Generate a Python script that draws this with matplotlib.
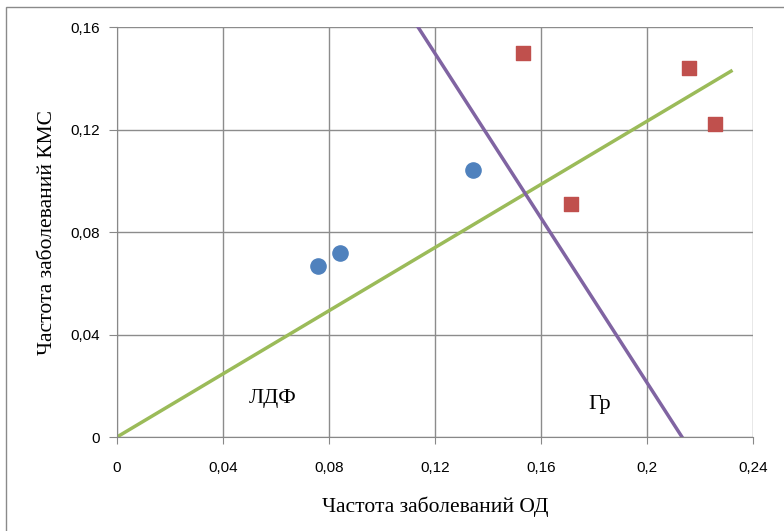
import matplotlib.pyplot as plt
from matplotlib.patches import Rectangle

# данные
ldf_x = [0.0758, 0.0842, 0.1343]
ldf_y = [0.0667, 0.0718, 0.1042]
gr_x = [0.1532, 0.1713, 0.2158, 0.2257]
gr_y = [0.150, 0.0909, 0.144, 0.1221]

green_x = [0.0, 0.2317]
green_y = [0.0, 0.1428]
purple_x = [0.1136, 0.2132]
purple_y = [0.16, 0.0]

x_ticks = [0, 0.04, 0.08, 0.12, 0.16, 0.2, 0.24]
x_labels = ["0", "0,04", "0,08", "0,12", "0,16", "0,2", "0,24"]
y_ticks = [0, 0.04, 0.08, 0.12, 0.16]
y_labels = ["0", "0,04", "0,08", "0,12", "0,16"]

fig = plt.figure(figsize=(7.84, 5.31), dpi=100)
ax = fig.add_axes([0.1492, 0.177, 0.8113, 0.772])

# рамка вокруг рисунка (видны только левая и верхняя стороны)
fig.patches.append(Rectangle((5.5 / 784, -10 / 531), 800 / 784, 534 / 531,
                             transform=fig.transFigure, fill=False,
                             edgecolor='#8a8a8a', lw=1))

ax.plot(green_x, green_y, color='#9BBB59', lw=2.5, zorder=2)
ax.plot(purple_x, purple_y, color='#8064A2', lw=2.5, zorder=2)
ax.scatter(ldf_x, ldf_y, s=120, color='#4F81BD', marker='o', zorder=3)
ax.scatter(gr_x, gr_y, s=100, color='#C0504D', marker='s', zorder=3)

ax.text(0.0589, 0.0152, "ЛДФ", fontsize=16, family='Liberation Serif',
        ha='center', va='center')
ax.text(0.182, 0.0125, "Гр", fontsize=16, family='Liberation Serif',
        ha='center', va='center')

ax.set_xlim(0, 0.24)
ax.set_ylim(0, 0.16)
ax.set_xticks(x_ticks)
ax.set_xticklabels(x_labels, family='Liberation Sans', fontsize=11)
ax.set_yticks(y_ticks)
ax.set_yticklabels(y_labels, family='Liberation Sans', fontsize=11)
ax.tick_params(axis='x', length=5, color='#888888', pad=12)
ax.tick_params(axis='y', length=6, color='#888888', pad=6)

ax.grid(True, color='#8c8c8c', lw=1)
ax.set_axisbelow(True)
for s in ax.spines.values():
    s.set_visible(False)
ax.spines['left'].set_visible(True)
ax.spines['bottom'].set_visible(True)
ax.spines['left'].set_color('#888888')
ax.spines['bottom'].set_color('#888888')

ax.set_xlabel("Частота заболеваний ОД", family='Liberation Serif',
              fontsize=15.5, labelpad=16)
ax.set_ylabel("Частота заболеваний КМС", family='Liberation Serif',
              fontsize=15.5, labelpad=10)

fig.savefig("out.png", dpi=100)
